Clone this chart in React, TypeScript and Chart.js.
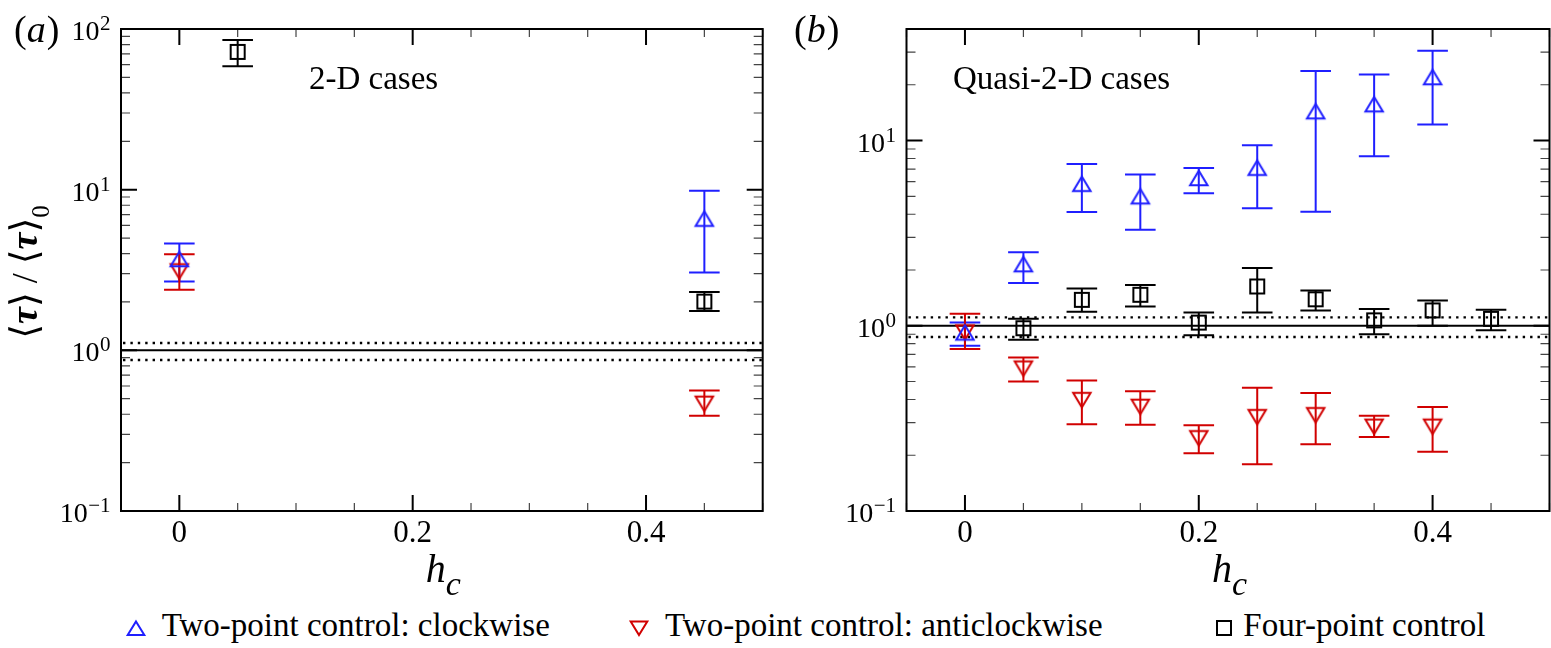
import { useEffect, useRef } from "react";
import { Chart, registerables, type ChartConfiguration, type Plugin } from "chart.js";

Chart.register(...registerables);

const SERIF = '"Liberation Serif", "Times New Roman", "DejaVu Serif", serif';
const BLUE = "#1f1fff";
const RED = "#d10000";
const BLACK = "#000000";

// (a) 2-D cases
const A_CW_HC = [0, 0.45];
const A_CW_TAU = [3.7, 6.6];
const A_CW_LO = [2.68, 3.05];
const A_CW_HI = [4.62, 9.84];

const A_ACW_HC = [0, 0.45];
const A_ACW_TAU = [3.1, 0.465];
const A_ACW_LO = [2.38, 0.392];
const A_ACW_HI = [3.97, 0.563];

const A_FOUR_HC = [0.05, 0.45];
const A_FOUR_TAU = [72, 2.01];
const A_FOUR_LO = [58.6, 1.76];
const A_FOUR_HI = [85.5, 2.31];

// (b) quasi-2-D cases
const B_CW_HC = [0, 0.05, 0.1, 0.15, 0.2, 0.25, 0.3, 0.35, 0.4];
const B_CW_TAU = [0.92, 2.15, 5.84, 5.0, 6.28, 7.13, 14.4, 15.7, 22.0];
const B_CW_LO = [0.78, 1.7, 4.11, 3.3, 5.19, 4.31, 4.13, 8.23, 12.2];
const B_CW_HI = [1.04, 2.49, 7.48, 6.55, 7.1, 9.44, 23.7, 22.7, 30.5];

const B_ACW_HC = [0, 0.05, 0.1, 0.15, 0.2, 0.25, 0.3, 0.35, 0.4];
const B_ACW_TAU = [0.92, 0.587, 0.397, 0.365, 0.247, 0.321, 0.329, 0.285, 0.285];
const B_ACW_LO = [0.75, 0.5, 0.294, 0.292, 0.205, 0.179, 0.229, 0.251, 0.209];
const B_ACW_HI = [1.16, 0.674, 0.507, 0.443, 0.29, 0.463, 0.433, 0.327, 0.364];

const B_FOUR_HC = [0.05, 0.1, 0.15, 0.2, 0.25, 0.3, 0.35, 0.4, 0.45];
const B_FOUR_TAU = [0.97, 1.38, 1.47, 1.04, 1.63, 1.39, 1.07, 1.21, 1.09];
const B_FOUR_LO = [0.84, 1.19, 1.27, 0.89, 1.18, 1.21, 0.9, 1.0, 0.945];
const B_FOUR_HI = [1.09, 1.59, 1.66, 1.18, 2.05, 1.55, 1.23, 1.37, 1.22];

const X_MIN = -0.05;
const X_MAX = 0.5;
const X_MAJOR_TICKS = [0, 0.2, 0.4];
const X_TICK_LABELS = ["0", "0.2", "0.4"];
const X_MINOR_TICKS = [-0.05, 0.05, 0.1, 0.15, 0.25, 0.3, 0.35, 0.45, 0.5];
const A_DECADES = [-1, 0, 1, 2];
const B_DECADES = [-1, 0, 1];
const REF_LEVEL = 1;
const SPREAD_HIGH = 1.11;
const SPREAD_LOW = 0.87;

const LEGEND_LABELS = [
  "Two-point control: clockwise",
  "Two-point control: anticlockwise",
  "Four-point control",
];

type Shape = "up" | "down" | "square";
type Series = {
  label: string;
  shape: Shape;
  color: string;
  hc: number[];
  tau: number[];
  lo: number[];
  hi: number[];
};
type Point = { x: number; y: number; lo: number; hi: number };
type PanelSpec = {
  letter: string;
  caption: string;
  captionX: number;
  letterX: number;
  yMax: number;
  decades: number[];
  series: Series[];
  canvasLeft: number;
  canvasWidth: number;
  padding: { left: number; right: number; top: number; bottom: number };
  yTitle: boolean;
};

const PANEL_A: PanelSpec = {
  letter: "a",
  caption: "2-D cases",
  captionX: 309,
  letterX: 14,
  yMax: 100,
  decades: A_DECADES,
  canvasLeft: 0,
  canvasWidth: 785,
  padding: { left: 121, right: 22.3, top: 29, bottom: 89 },
  yTitle: true,
  series: [
    { label: LEGEND_LABELS[0], shape: "up", color: BLUE, hc: A_CW_HC, tau: A_CW_TAU, lo: A_CW_LO, hi: A_CW_HI },
    { label: LEGEND_LABELS[1], shape: "down", color: RED, hc: A_ACW_HC, tau: A_ACW_TAU, lo: A_ACW_LO, hi: A_ACW_HI },
    { label: LEGEND_LABELS[2], shape: "square", color: BLACK, hc: A_FOUR_HC, tau: A_FOUR_TAU, lo: A_FOUR_LO, hi: A_FOUR_HI },
  ],
};

const PANEL_B: PanelSpec = {
  letter: "b",
  caption: "Quasi-2-D cases",
  captionX: 168,
  letterX: 9,
  yMax: 40,
  decades: B_DECADES,
  canvasLeft: 785,
  canvasWidth: 766,
  padding: { left: 121.5, right: 1.5, top: 29, bottom: 89 },
  yTitle: false,
  series: [
    { label: LEGEND_LABELS[0], shape: "up", color: BLUE, hc: B_CW_HC, tau: B_CW_TAU, lo: B_CW_LO, hi: B_CW_HI },
    { label: LEGEND_LABELS[1], shape: "down", color: RED, hc: B_ACW_HC, tau: B_ACW_TAU, lo: B_ACW_LO, hi: B_ACW_HI },
    { label: LEGEND_LABELS[2], shape: "square", color: BLACK, hc: B_FOUR_HC, tau: B_FOUR_TAU, lo: B_FOUR_LO, hi: B_FOUR_HI },
  ],
};

const CAP = 15.3;

function markerCanvas(shape: Shape, color: string) {
  const c = document.createElement("canvas");
  c.width = 24;
  c.height = 24;
  const g = c.getContext("2d")!;
  g.strokeStyle = color;
  g.lineWidth = 2;
  g.lineJoin = "miter";
  g.beginPath();
  if (shape === "up") {
    g.moveTo(12, 4.8);
    g.lineTo(20.7, 19.2);
    g.lineTo(3.3, 19.2);
    g.closePath();
  } else if (shape === "down") {
    g.moveTo(12, 19.2);
    g.lineTo(20.7, 4.8);
    g.lineTo(3.3, 4.8);
    g.closePath();
  } else {
    g.rect(5, 5, 14, 14);
  }
  g.stroke();
  return c;
}

function minorLogTicks(min: number, max: number) {
  const out: number[] = [];
  for (let d = Math.floor(Math.log10(min)); d <= Math.ceil(Math.log10(max)); d++) {
    for (let m = 2; m <= 9; m++) {
      const v = m * Math.pow(10, d);
      if (v > min && v < max) out.push(v);
    }
  }
  return out;
}

function panelPlugin(spec: PanelSpec): Plugin<"scatter"> {
  return {
    id: `panel-${spec.letter}`,
    beforeDatasetsDraw(chart) {
      const { ctx, chartArea: a } = chart;
      const xs = chart.scales.x;
      const ys = chart.scales.y;
      ctx.save();
      ctx.strokeStyle = BLACK;
      ctx.lineWidth = 2;
      const y1 = ys.getPixelForValue(REF_LEVEL);
      ctx.beginPath();
      ctx.moveTo(a.left, y1);
      ctx.lineTo(a.right, y1);
      ctx.stroke();
      ctx.lineWidth = 2.4;
      ctx.setLineDash([2.4, 5]);
      for (const v of [SPREAD_HIGH, SPREAD_LOW]) {
        const py = ys.getPixelForValue(v);
        ctx.beginPath();
        ctx.moveTo(a.left + 2, py);
        ctx.lineTo(a.right, py);
        ctx.stroke();
      }
      ctx.setLineDash([]);

      chart.data.datasets.forEach((ds) => {
        ctx.strokeStyle = ds.borderColor as string;
        ctx.lineWidth = 2;
        (ds.data as unknown as Point[]).forEach((p) => {
          const px = xs.getPixelForValue(p.x);
          const top = ys.getPixelForValue(p.hi);
          const bot = ys.getPixelForValue(p.lo);
          ctx.beginPath();
          ctx.moveTo(px, top);
          ctx.lineTo(px, bot);
          ctx.moveTo(px - CAP, top);
          ctx.lineTo(px + CAP, top);
          ctx.moveTo(px - CAP, bot);
          ctx.lineTo(px + CAP, bot);
          ctx.stroke();
        });
      });
      ctx.restore();
    },
    afterDraw(chart) {
      const { ctx, chartArea: a } = chart;
      const xs = chart.scales.x;
      const ys = chart.scales.y;
      ctx.save();
      ctx.fillStyle = BLACK;

      // minor ticks
      ctx.strokeStyle = "#444";
      ctx.lineWidth = 1.2;
      ctx.beginPath();
      for (const v of X_MINOR_TICKS) {
        const px = xs.getPixelForValue(v);
        ctx.moveTo(px, a.bottom);
        ctx.lineTo(px, a.bottom - 8);
        ctx.moveTo(px, a.top);
        ctx.lineTo(px, a.top + 8);
      }
      for (const v of minorLogTicks(0.1, spec.yMax)) {
        const py = ys.getPixelForValue(v);
        ctx.moveTo(a.left, py);
        ctx.lineTo(a.left + 9, py);
        ctx.moveTo(a.right, py);
        ctx.lineTo(a.right - 9, py);
      }
      ctx.stroke();

      // major ticks
      ctx.strokeStyle = BLACK;
      ctx.lineWidth = 2;
      ctx.beginPath();
      for (const v of X_MAJOR_TICKS) {
        const px = xs.getPixelForValue(v);
        ctx.moveTo(px, a.bottom);
        ctx.lineTo(px, a.bottom - 16);
        ctx.moveTo(px, a.top);
        ctx.lineTo(px, a.top + 16);
      }
      for (const d of spec.decades) {
        const py = ys.getPixelForValue(Math.pow(10, d));
        ctx.moveTo(a.left, py);
        ctx.lineTo(a.left + 16, py);
        ctx.moveTo(a.right, py);
        ctx.lineTo(a.right - 16, py);
      }
      ctx.stroke();

      // frame
      ctx.lineWidth = 2;
      ctx.strokeRect(a.left, a.top, a.right - a.left, a.bottom - a.top);

      // x tick labels
      ctx.font = `31px ${SERIF}`;
      ctx.textAlign = "center";
      ctx.textBaseline = "alphabetic";
      X_MAJOR_TICKS.forEach((v, i) => {
        ctx.fillText(X_TICK_LABELS[i], xs.getPixelForValue(v), a.bottom + 30.7);
      });

      // y tick labels 10^d
      for (const d of spec.decades) {
        const py = ys.getPixelForValue(Math.pow(10, d));
        const expText = d < 0 ? `\u2212${-d}` : `${d}`;
        const right = a.left - 10.5;
        ctx.font = `21px ${SERIF}`;
        const ew = ctx.measureText(expText).width;
        ctx.textAlign = "left";
        ctx.fillText(expText, right - ew, py + 1);
        ctx.font = `28px ${SERIF}`;
        ctx.textAlign = "right";
        ctx.fillText("10", right - ew - 0.5, py + 11);
      }

      // x title h_c
      const cx = (a.left + a.right) / 2 + 1.5;
      ctx.font = `italic 40px ${SERIF}`;
      const hw = ctx.measureText("h").width;
      ctx.font = `italic 34px ${SERIF}`;
      const cw = ctx.measureText("c").width;
      const start = cx - (hw + cw) / 2;
      ctx.textAlign = "left";
      ctx.font = `italic 40px ${SERIF}`;
      ctx.fillText("h", start, a.bottom + 70.7);
      ctx.font = `italic 34px ${SERIF}`;
      ctx.fillText("c", start + hw, a.bottom + 84);

      // caption
      ctx.font = `33px ${SERIF}`;
      ctx.fillText(spec.caption, spec.captionX, a.top + 60);

      // panel letter
      ctx.font = `38px ${SERIF}`;
      let lx = spec.letterX;
      const ly = a.top + 13;
      ctx.fillText("(", lx, ly);
      lx += ctx.measureText("(").width;
      ctx.font = `italic 38px ${SERIF}`;
      ctx.fillText(spec.letter, lx, ly);
      lx += ctx.measureText(spec.letter).width + 1;
      ctx.font = `38px ${SERIF}`;
      ctx.fillText(")", lx, ly);

      // y title
      if (spec.yTitle) {
        ctx.translate(37, (a.top + a.bottom) / 2 + 2);
        ctx.rotate(-Math.PI / 2);
        const parts = [
          { t: "\u27E8", f: `38px ${SERIF}`, dy: 0 },
          { t: "\u03C4", f: `italic bold 38px ${SERIF}`, dy: 0 },
          { t: "\u27E9", f: `38px ${SERIF}`, dy: 0 },
          { t: " / ", f: `36px ${SERIF}`, dy: 0 },
          { t: "\u27E8", f: `38px ${SERIF}`, dy: 0 },
          { t: "\u03C4", f: `italic bold 38px ${SERIF}`, dy: 0 },
          { t: "\u27E9", f: `38px ${SERIF}`, dy: 0 },
          { t: "0", f: `25px ${SERIF}`, dy: 12 },
        ];
        let total = 0;
        const widths = parts.map((p) => {
          ctx.font = p.f;
          const w = ctx.measureText(p.t).width;
          total += w;
          return w;
        });
        let tx = -total / 2;
        parts.forEach((p, i) => {
          ctx.font = p.f;
          ctx.fillText(p.t, tx, p.dy);
          tx += widths[i];
        });
      }
      ctx.restore();
    },
  };
}

function buildConfig(spec: PanelSpec): ChartConfiguration<"scatter"> {
  return {
    type: "scatter",
    data: {
      datasets: spec.series.map((s) => ({
        label: s.label,
        data: s.hc.map((x, i) => ({ x, y: s.tau[i], lo: s.lo[i], hi: s.hi[i] })) as any,
        pointStyle: markerCanvas(s.shape, s.color),
        pointRadius: 9,
        borderColor: s.color,
        backgroundColor: "transparent",
      })),
    },
    options: {
      responsive: false,
      animation: false,
      events: [],
      layout: { padding: spec.padding, autoPadding: false },
      plugins: { legend: { display: false }, tooltip: { enabled: false } },
      scales: {
        x: { type: "linear", min: X_MIN, max: X_MAX, display: false },
        y: { type: "logarithmic", min: 0.1, max: spec.yMax, display: false },
      },
    },
    plugins: [panelPlugin(spec)],
  };
}

function Panel({ spec }: { spec: PanelSpec }) {
  const canvasRef = useRef<HTMLCanvasElement>(null);

  useEffect(() => {
    if (!canvasRef.current) {
      return;
    }
    const chart = new Chart(canvasRef.current, buildConfig(spec));
    return () => {
      chart.destroy();
    };
  }, [spec]);

  return (
    <canvas
      ref={canvasRef}
      width={spec.canvasWidth}
      height={600}
      style={{ position: "absolute", left: spec.canvasLeft, top: 0, width: spec.canvasWidth, height: 600 }}
    />
  );
}

function LegendMarker({ shape, color, cx }: { shape: Shape; color: string; cx: number }) {
  let path;
  if (shape === "up") path = <polygon points="12,5.5 20.3,19 3.7,19" />;
  else if (shape === "down") path = <polygon points="12,19 20.3,5.5 3.7,5.5" />;
  else path = <rect x={5} y={5} width={14} height={14} />;
  return (
    <svg
      width={24}
      height={24}
      style={{ position: "absolute", left: cx - 12, top: 627.5 - 12 }}
    >
      <g fill="none" stroke={color} strokeWidth={2}>
        {path}
      </g>
    </svg>
  );
}

const LEGEND_ITEMS: { shape: Shape; color: string; cx: number; textLeft: number }[] = [
  { shape: "up", color: BLUE, cx: 136, textLeft: 161.7 },
  { shape: "down", color: RED, cx: 639.3, textLeft: 665 },
  { shape: "square", color: BLACK, cx: 1224, textLeft: 1243.3 },
];

export default function App() {
  useEffect(() => {
    document.body.style.margin = "0";
  }, []);

  return (
    <div
      style={{
        position: "absolute",
        left: 0,
        top: 0,
        width: 1551,
        height: 648,
        background: "#ffffff",
        overflow: "hidden",
        fontFamily: SERIF,
      }}
    >
      <Panel spec={PANEL_A} />
      <Panel spec={PANEL_B} />
      {LEGEND_ITEMS.map((item, i) => (
        <div key={i}>
          <LegendMarker shape={item.shape} color={item.color} cx={item.cx} />
          <div
            style={{
              position: "absolute",
              left: item.textLeft,
              top: 609.4,
              fontSize: 33,
              lineHeight: "33px",
              whiteSpace: "nowrap",
              color: BLACK,
            }}
          >
            {LEGEND_LABELS[i]}
          </div>
        </div>
      ))}
    </div>
  );
}
